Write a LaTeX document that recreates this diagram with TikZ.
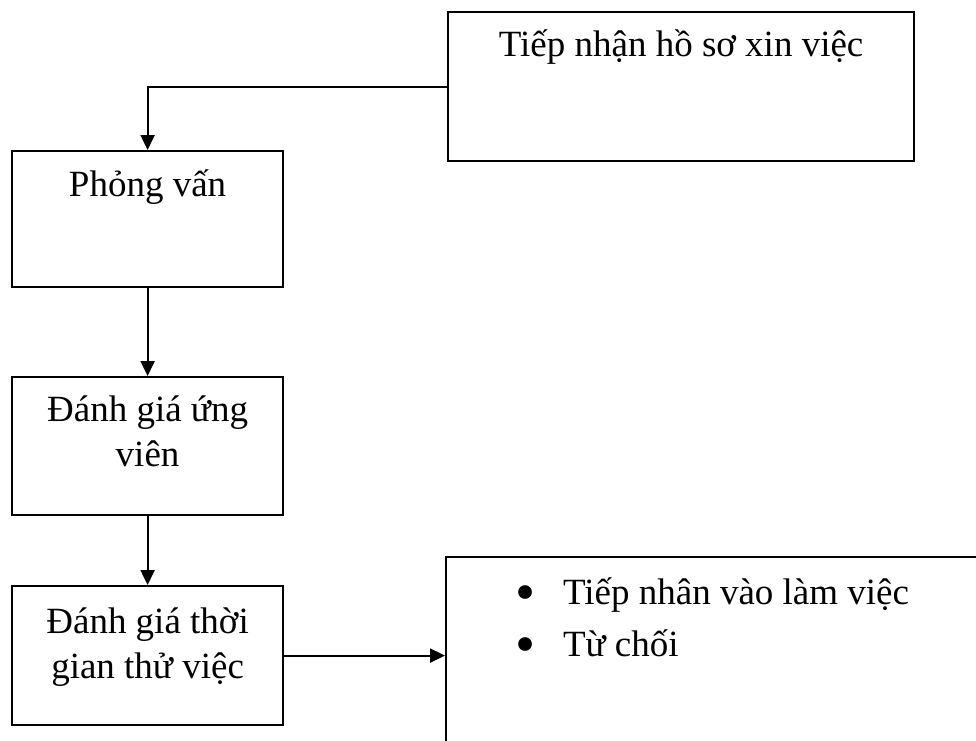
\documentclass[tikz,border=0pt]{standalone}
\usepackage{fontspec}
\setmainfont{Liberation Serif}
\usetikzlibrary{arrows.meta}

% box text: width, height, gap above the first line, text (top aligned, centred)
\newcommand\flowtext[4]{\parbox[t][#2][t]{#1}{\fontsize{37}{45.5}\selectfont\centering
  \vspace*{#3}\rule{0pt}{36pt}#4\par}}
% list item with a large round bullet
\newcommand\flowitem[1]{\hspace*{69pt}\makebox[48pt][l]{\raisebox{-7pt}{\scalebox{1.55}{•}}}#1}

\tikzset{
  flowbox/.style={draw, line width=2.2pt, inner sep=0pt, anchor=north west},
  flowarrow/.style={line width=2.2pt, -{Triangle[length=15pt,width=14pt]}}
}

\begin{document}
\begin{tikzpicture}[x=1pt,y=-1pt]
  \useasboundingbox (0,0) rectangle (976,740);
  \clip (0,0) rectangle (976,740);

  \node[flowbox] (receive) at (447,11)
    {\flowtext{466pt}{149pt}{8pt}{Tiếp nhận hồ sơ xin việc}};
  \node[flowbox] (interview) at (11,150)
    {\flowtext{271pt}{136pt}{9pt}{Phỏng vấn}};
  \node[flowbox] (assess) at (11,376)
    {\flowtext{271pt}{138pt}{8pt}{Đánh giá ứng\\viên}};
  \node[flowbox] (trial) at (11,585)
    {\flowtext{271pt}{139pt}{11pt}{Đánh giá thời\\gian thử việc}};

  % outcome box, running past the right and bottom edges
  \node[flowbox] (outcome) at (445,556)
    {\parbox[t][250pt][t]{600pt}{\fontsize{37}{45.5}\selectfont\raggedright
      \vspace*{11pt}\rule{0pt}{36pt}%
      \flowitem{Tiếp nhân vào làm việc}\\[6.5pt]
      \flowitem{Từ chối}\par}};

  \draw[flowarrow] (receive.west) -| (interview.north);
  \draw[flowarrow] (interview.south) -- (assess.north);
  \draw[flowarrow] (assess.south) -- (trial.north);
  \draw[flowarrow] (trial.east) -- (trial.east -| outcome.west);
\end{tikzpicture}
\end{document}
